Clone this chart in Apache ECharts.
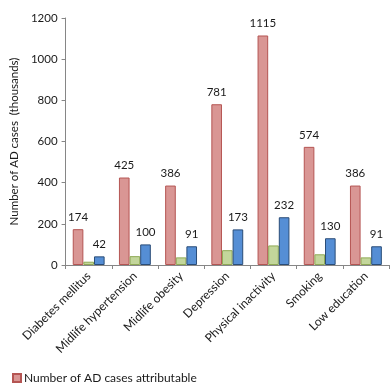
<!DOCTYPE html>
<html>
<head>
<meta charset="utf-8">
<style>
  html, body { margin: 0; padding: 0; background: #fff; }
  #chart { width: 391px; height: 392px; }
</style>
<script src="https://cdn.jsdelivr.net/npm/echarts@6/dist/echarts.min.js"></script>
</head>
<body>
<div id="chart"></div>
<script>
// Risk factors for Alzheimer's disease (AD)
const categories = ['Diabetes mellitus', 'Midlife hypertension', 'Midlife obesity', 'Depression', 'Physical inactivity', 'Smoking', 'Low education'];
// Number of AD cases attributable (thousands)
const attributable = [174, 425, 386, 781, 1115, 574, 386];
// Second (unlabelled) series
const secondSeries = [16, 43, 37, 72, 95, 52, 37];
// Third series
const thirdSeries = [42, 100, 91, 173, 232, 130, 91];
const yTicks = { min: 0, max: 1200, interval: 200 };

const font = 'Lato, "Open Sans", sans-serif';
const chart = echarts.init(document.getElementById('chart'), null, { renderer: 'canvas' });

const labelStyle = { show: true, position: 'top', color: '#1a1a1a', fontSize: 11.5, fontFamily: font, distance: 6 };

chart.setOption({
  animation: false,
  textStyle: { fontFamily: font },
  grid: { left: 55, right: 2, top: 18, bottom: 127, containLabel: false },
  legend: {
    data: ['Number of AD cases attributable'],
    left: 7, bottom: 3,
    itemWidth: 8, itemHeight: 8, itemGap: 4,
    icon: 'rect',
    textStyle: { fontSize: 12, color: '#1a1a1a', fontFamily: font, padding: [0, 0, 0, -2] }
  },
  xAxis: {
    type: 'category',
    data: categories,
    axisLine: { lineStyle: { color: '#868686', width: 1 } },
    axisTick: { show: true, alignWithLabel: false, length: 4, lineStyle: { color: '#868686' } },
    axisLabel: { rotate: 45, interval: 0, color: '#1a1a1a', fontSize: 12, fontFamily: font, margin: 9 }
  },
  yAxis: {
    type: 'value',
    min: yTicks.min, max: yTicks.max, interval: yTicks.interval,
    name: 'Number of AD cases  (thousands)',
    nameLocation: 'middle',
    nameGap: 34,
    nameTextStyle: { fontSize: 11.5, color: '#1a1a1a', fontFamily: font },
    axisLine: { show: true, lineStyle: { color: '#868686', width: 1 } },
    axisTick: { show: true, length: 4, lineStyle: { color: '#868686' } },
    axisLabel: { color: '#1a1a1a', fontSize: 11.5, fontFamily: font, margin: 8, formatter: v => String(v) },
    splitLine: { show: false }
  },
  series: [
    {
      name: 'Number of AD cases attributable',
      type: 'bar',
      data: attributable,
      barGap: '0%',
      barCategoryGap: '31%',
      itemStyle: { color: '#D99694', borderColor: '#B55553', borderWidth: 1 },
      label: labelStyle
    },
    {
      name: 'Second series',
      type: 'bar',
      data: secondSeries,
      itemStyle: { color: '#C3D69B', borderColor: '#8FAA55', borderWidth: 1 }
    },
    {
      name: 'Third series',
      type: 'bar',
      data: thirdSeries,
      itemStyle: { color: '#558ED5', borderColor: '#2A4D78', borderWidth: 1 },
      label: labelStyle
    }
  ]
});
</script>
</body>
</html>
